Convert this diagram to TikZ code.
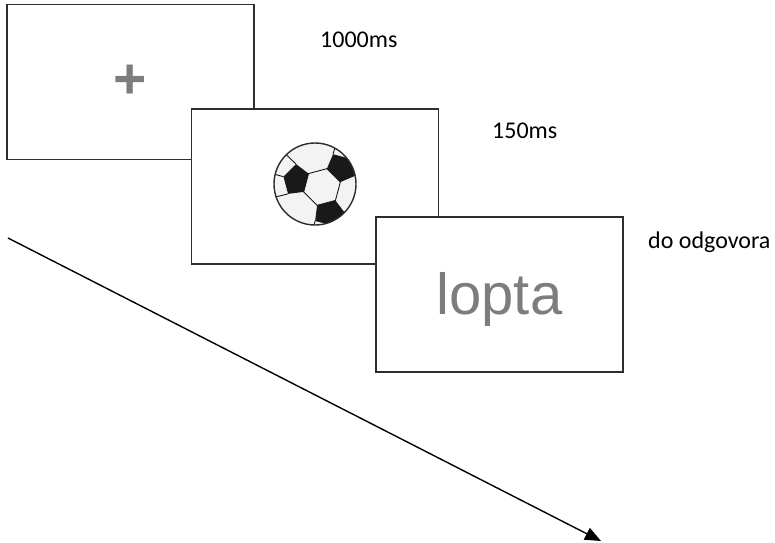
\documentclass[tikz,border=0pt]{standalone}
\usepackage{fontspec}
\setmainfont{Carlito}
\newfontfamily\stimfont{Liberation Sans}
\usetikzlibrary{arrows.meta,positioning,calc}
\definecolor{ink}{RGB}{45,45,45}
\definecolor{stim}{RGB}{125,125,125}
\definecolor{leather}{RGB}{243,243,243}
\definecolor{patch}{RGB}{25,25,25}
\tikzset{
  screen/.style={draw=ink,line width=1.3pt,fill=white,minimum width=247pt,
    minimum height=155pt,inner sep=0pt},
  dur/.style={font=\fontsize{24}{28}\selectfont,anchor=base west,inner sep=0pt},
  stimtext/.style={text=stim,inner sep=0pt,font=\stimfont\fontsize{58}{60}\selectfont},
  seam/.style={draw=patch,line width=0.9pt},
  ar/.style={-{Triangle[length=16pt,width=13pt]},line width=1.4pt},
}

\begin{document}
\begin{tikzpicture}[x=1pt,y=1pt]
  \useasboundingbox (0,0) rectangle (775,-542);
  % the three screens, each laid over the one before
  \node[screen] (fix) at (130.5,-82) {};
  \node[screen] (pic) at (315,-186.5) {};
  \node[screen] (word) at (499.5,-294.5) {};
  % fixation cross and target word
  \node[stimtext,font=\stimfont\bfseries\fontsize{57}{60}\selectfont] (cross) at (fix) {+};
  \node[stimtext] (lopta) at ($(word)+(0,-5)$) {lopta};
  % the ball
  \coordinate (ball) at (315,-184);
  \begin{scope}
    \fill[leather] (ball) circle (41);
    \clip (ball) circle (41);
    \begin{scope}[shift={($(ball)+(7,-3)$)}]
      \foreach \a in {45,165,285}{
        \begin{scope}[rotate=\a-90]
          \fill[patch] (-9.5,16.5) -- (9.5,16.5) -- (15.4,31) -- (0,39.9)
            -- (-15.4,31) -- cycle;
          \draw[seam] (0,39.9) -- (0,70);
          \draw[seam] (15.4,31) -- (36,68);
          \draw[seam] (-15.4,31) -- (-36,68);
        \end{scope}
      }
      \draw[seam] (15:19) -- (75:19) -- (135:19) -- (195:19) -- (255:19)
        -- (315:19) -- cycle;
    \end{scope}
  \end{scope}
  \draw[ink,line width=1.4pt] (ball) circle (41);
  % durations
  \node[dur] (t1) at (320,-47) {1000ms};
  \node[dur] (t2) at (492,-138) {150ms};
  \node[dur] (t3) at (648,-248) {do odgovora};
  % time axis
  \coordinate (tstart) at (8,-238);
  \coordinate (tend) at (601,-541);
  \draw[ar] (tstart) -- (tend);
\end{tikzpicture}
\end{document}
